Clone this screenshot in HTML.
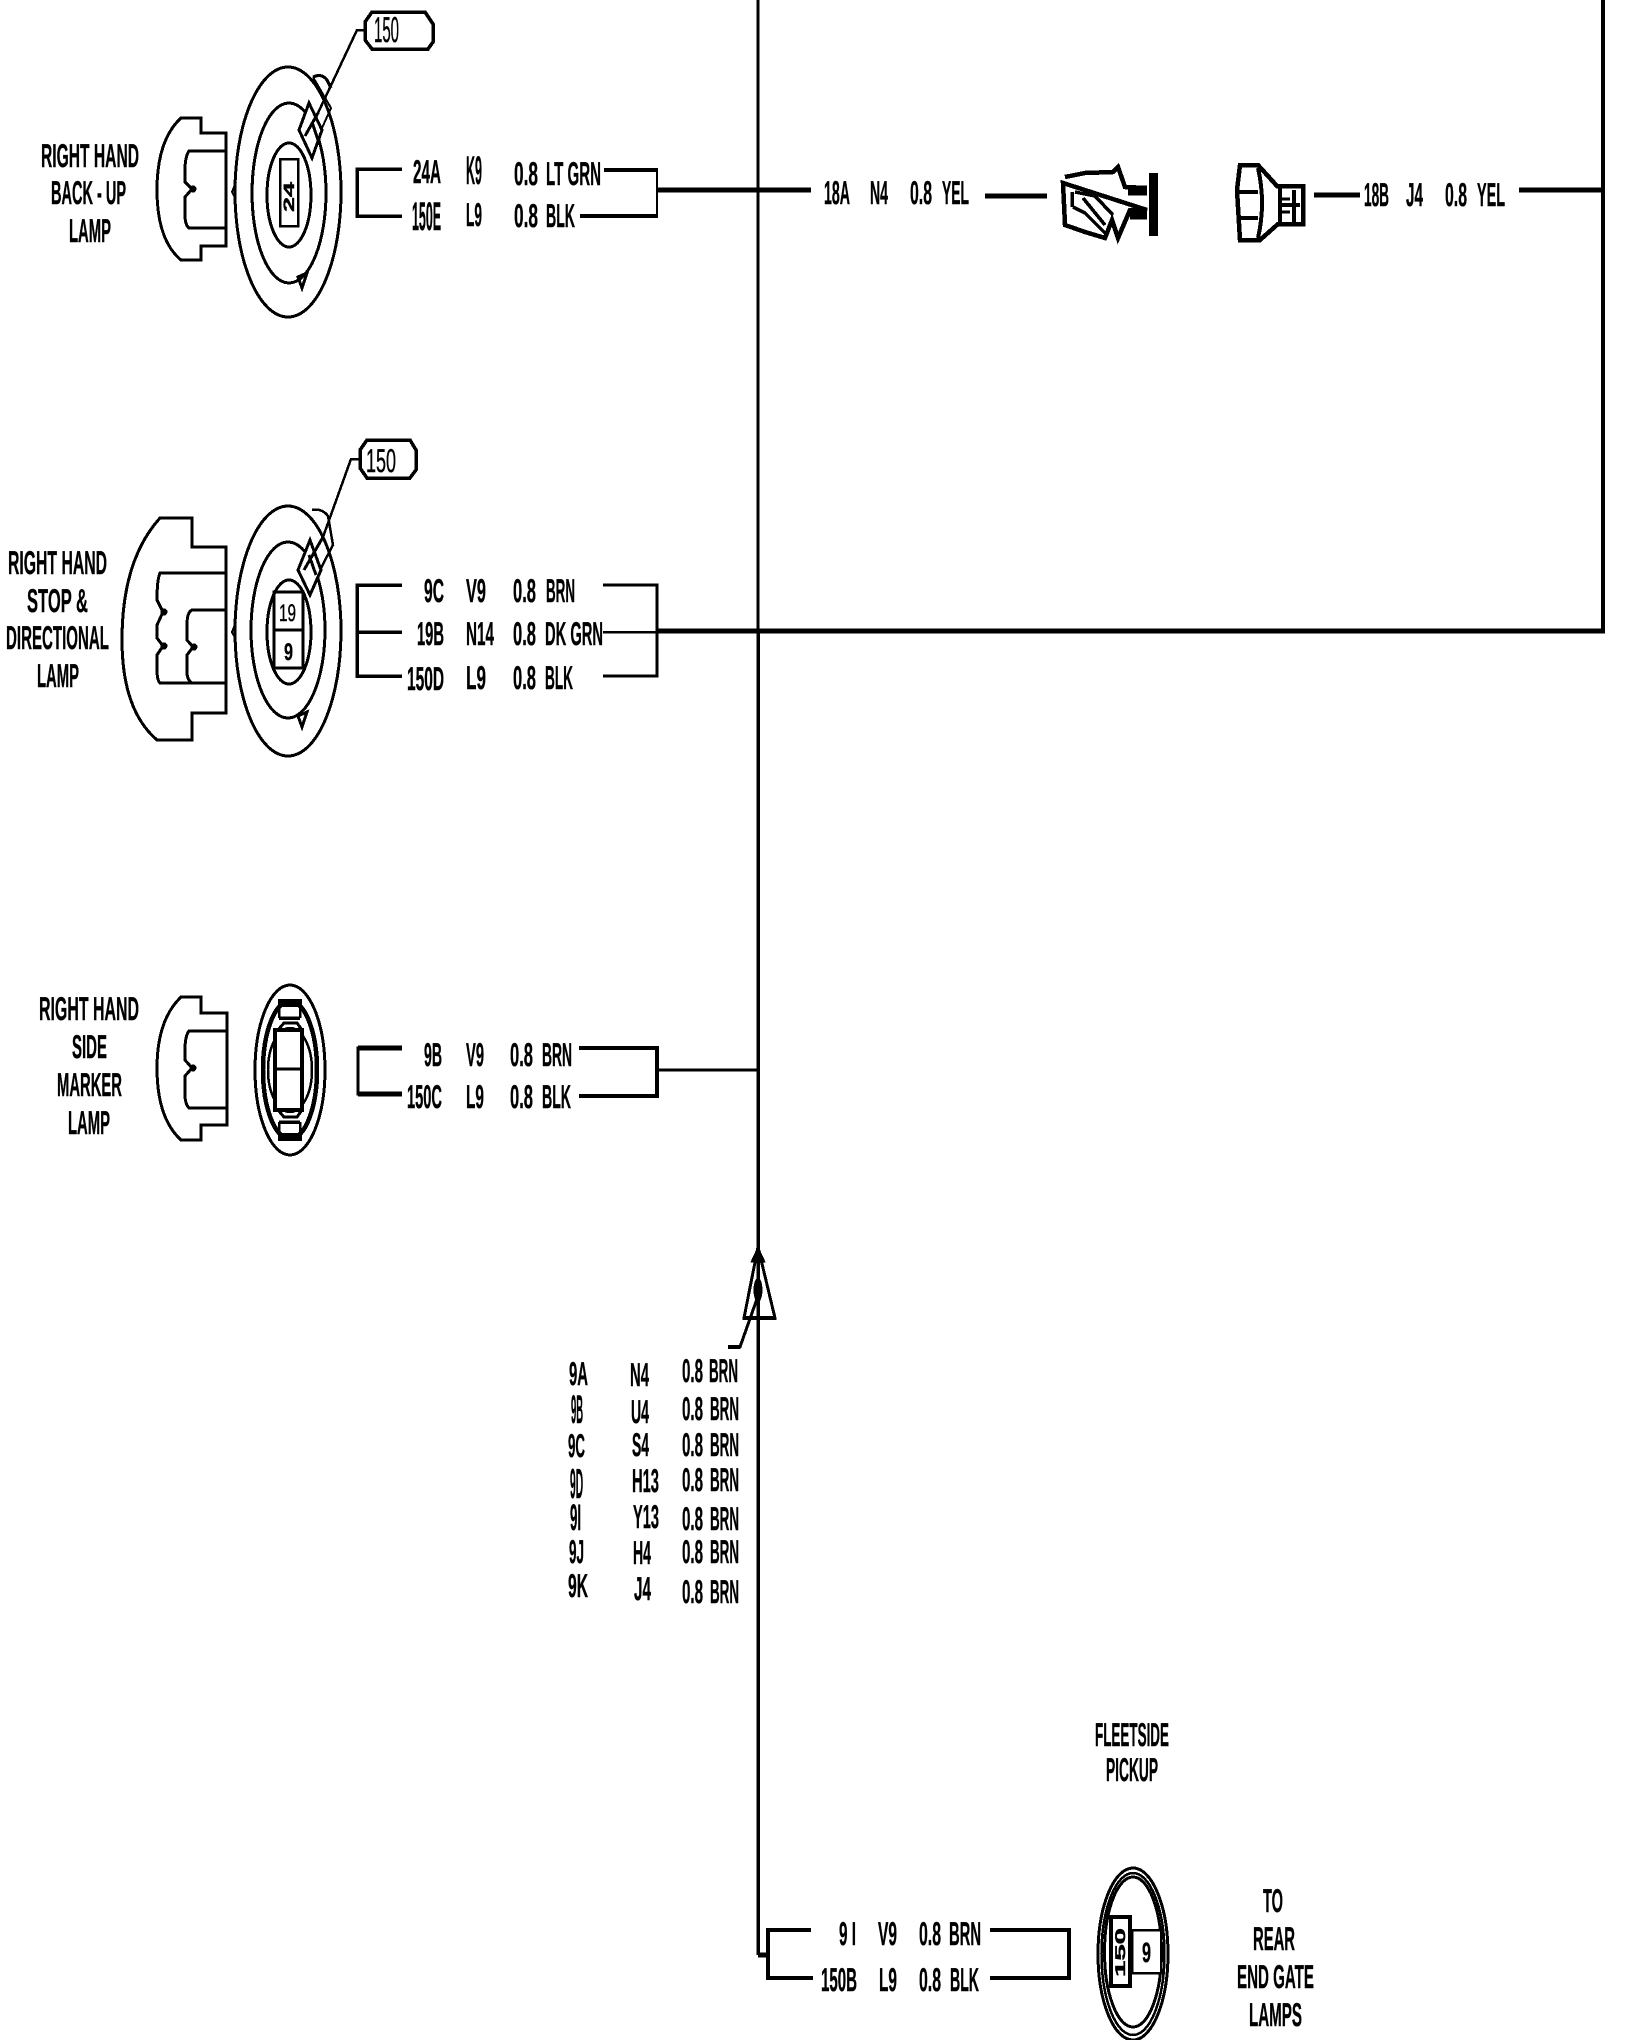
<!DOCTYPE html>
<html>
<head>
<meta charset="utf-8">
<style>
html,body{margin:0;padding:0;background:#fff;width:1648px;height:2040px;overflow:hidden}
svg{display:block}
text{font-family:"Liberation Sans",sans-serif;font-weight:bold;font-size:33px;fill:#000;stroke:#000;stroke-width:.4;text-rendering:geometricPrecision}
text:not([transform]){transform:translateY(-1px)}
.l{fill:none;stroke:#000;stroke-linejoin:miter}
</style>
</head>
<body>
<svg width="1648" height="2040" viewBox="0 0 1648 2040" xmlns="http://www.w3.org/2000/svg" shape-rendering="crispEdges">
<!-- frame -->
<g class="l">
<path d="M758 0V631" stroke-width="3"/>
<path d="M758 631V1955" stroke-width="3.5"/>
<path d="M758 1955H768" stroke-width="5"/>
<path d="M1603 0V633" stroke-width="4"/>
<path d="M657 631H1605" stroke-width="5"/>
</g>

<!-- ROW 1 -->
<text x="41" y="168" textLength="98" lengthAdjust="spacingAndGlyphs">RIGHT  HAND</text>
<text x="51" y="205" textLength="75" lengthAdjust="spacingAndGlyphs">BACK - UP</text>
<text x="69" y="243" textLength="42" lengthAdjust="spacingAndGlyphs">LAMP</text>
<g class="l" stroke-width="2.5">
<path d="M201 133V118H181Q157 140 157 190Q157 240 181 260H201V246H226V133H201Z" stroke-width="3"/>
<path d="M226 151H189Q185 157 185 170V182L192 189L185 197V215Q185 225 189 228H226" stroke-width="3"/>
<ellipse cx="288" cy="192" rx="53" ry="125" stroke-width="3"/>
<ellipse cx="289" cy="193" rx="37" ry="90" stroke-width="3"/>
<ellipse cx="289" cy="195" rx="22" ry="52" stroke-width="3"/>
<rect x="280" y="159" width="18" height="67" stroke-width="2.5"/>
<path d="M309 103L299 130L312 158L322 130Z" stroke-width="3" fill="#fff"/>
<path d="M318 113L305 136M312 122L318 140" stroke-width="3"/>
<path d="M313 77Q322 73 327 80L331 88" stroke-width="3"/>
<path d="M318 113L357 30H365" stroke-width="2.5"/>
<path d="M313 77L331 108L322 128" stroke-width="2"/>
<path d="M298 277L307 273L302 288Z" stroke-width="3"/>
<path d="M236 182L232 192L236 200" stroke-width="2"/>
<path d="M372 12H425L433 24V42L428 49H372L365 40V22Z" stroke-width="3.5" fill="#fff"/>
<path d="M402 169H357V216H402" stroke-width="3.5"/>
<path d="M604 170H657M580 216H657" stroke-width="4"/>
<path d="M657 168V218" stroke-width="2"/>
<path d="M657 190H811" stroke-width="5"/>
</g>
<circle cx="193" cy="189" r="3.5"/>
<text x="374" y="43" textLength="25" lengthAdjust="spacingAndGlyphs" style="font-size:36px;font-weight:normal">150</text>
<text transform="translate(294,212) rotate(-90)" x="0" y="0" textLength="30" lengthAdjust="spacingAndGlyphs" style="font-size:15px">24</text>
<text x="413" y="184" textLength="28" lengthAdjust="spacingAndGlyphs">24A</text>
<text transform="translate(466,184) scale(.313,1)" style="font-size:40px">K9</text>
<text x="514" y="186" textLength="24" lengthAdjust="spacingAndGlyphs">0.8</text>
<text x="546" y="186" textLength="55" lengthAdjust="spacingAndGlyphs">LT GRN</text>
<text transform="translate(412,230) scale(.311,1)" style="font-size:40px">150E</text>
<text x="466" y="227" textLength="16" lengthAdjust="spacingAndGlyphs">L9</text>
<text x="514" y="228" textLength="24" lengthAdjust="spacingAndGlyphs">0.8</text>
<text x="546" y="228" textLength="29" lengthAdjust="spacingAndGlyphs">BLK</text>

<!-- top right row -->
<text x="824" y="205" textLength="26" lengthAdjust="spacingAndGlyphs">18A</text>
<text x="870" y="205" textLength="18" lengthAdjust="spacingAndGlyphs">N4</text>
<text x="910" y="205" textLength="22" lengthAdjust="spacingAndGlyphs">0.8</text>
<text x="942" y="205" textLength="27" lengthAdjust="spacingAndGlyphs">YEL</text>
<g class="l">
<path d="M985 196H1047" stroke-width="5"/>
<path d="M1065 177L1085 173L1113 172L1118 167L1125 187L1147 188M1147 210L1130 210L1118 238L1112 220L1105 238L1085 232L1065 225L1063 183Z" stroke-width="4.5"/>
<path d="M1153.5 173V236" stroke-width="9"/>
<path d="M1128 191H1147M1130 215H1147" stroke-width="9"/>
<path d="M1075 192L1095 196L1113 215M1072 192V207M1073 207L1085 213L1107 235M1083 198L1105 225" stroke-width="3.5"/>
<path d="M1240 165H1258L1277 186H1303V224H1278L1260 240H1240L1237 190Z" stroke-width="4.5"/>
<path d="M1238 192H1258M1238 218H1258M1258 168Q1266 203 1258 238" stroke-width="4"/>
<path d="M1280 205H1300M1294 190V222M1280 188V222" stroke-width="4"/>
<path d="M1278 199H1290M1278 212H1290" stroke-width="3"/>
<path d="M1314 195H1360" stroke-width="5"/>
<path d="M1519 190H1603" stroke-width="5"/>
</g>
<text x="1364" y="207" textLength="25" lengthAdjust="spacingAndGlyphs">18B</text>
<text x="1406" y="207" textLength="17" lengthAdjust="spacingAndGlyphs">J4</text>
<text x="1445" y="207" textLength="22" lengthAdjust="spacingAndGlyphs">0.8</text>
<text x="1477" y="207" textLength="28" lengthAdjust="spacingAndGlyphs">YEL</text>

<!-- ROW 2 -->
<text x="8" y="575" textLength="99" lengthAdjust="spacingAndGlyphs">RIGHT  HAND</text>
<text x="27" y="613" textLength="61" lengthAdjust="spacingAndGlyphs">STOP &amp;</text>
<text x="6" y="650" textLength="103" lengthAdjust="spacingAndGlyphs">DIRECTIONAL</text>
<text x="37" y="688" textLength="42" lengthAdjust="spacingAndGlyphs">LAMP</text>
<g class="l" stroke-width="2.5">
<path d="M192 547V518H160Q122 560 122 640Q122 710 157 740H192V713H226V547H192Z" stroke-width="3"/>
<path d="M226 573H160Q157 580 157 600L163 612L157 625V638L163 646L157 655V670Q157 680 160 683H226" stroke-width="3"/>
<path d="M226 610H192Q187 612 187 625V640L193 647L187 655V672Q187 680 192 683" stroke-width="3"/>
<ellipse cx="288" cy="631" rx="53" ry="125" stroke-width="3"/>
<ellipse cx="288" cy="630" rx="37" ry="88" stroke-width="3"/>
<ellipse cx="289" cy="632" rx="22" ry="52" stroke-width="3"/>
<rect x="274" y="592" width="29" height="76" stroke-width="3"/>
<path d="M274 630H303" stroke-width="3"/>
<path d="M310 540L298 570L310 595L321 570Z" stroke-width="3" fill="#fff"/>
<path d="M323 537L304 570M309 555L316 575" stroke-width="3"/>
<path d="M312 510Q322 508 328 516L333 545L321 568" stroke-width="2.5"/>
<path d="M323 537L351 459H360" stroke-width="2.5"/>
<path d="M298 716L307 712L302 727Z" stroke-width="3"/>
<path d="M236 622L232 632L236 640" stroke-width="2"/>
<path d="M367 440H410L416 450V470L410 478H367L360 468V450Z" stroke-width="3.5" fill="#fff"/>
<path d="M402 585H357V676H402" stroke-width="3.5"/>
<path d="M357 632H402" stroke-width="3.5"/>
<path d="M603 585H657V676H603" stroke-width="3"/>
<path d="M603 632H657" stroke-width="2.5"/>
</g>
<circle cx="164" cy="612" r="3.5"/><circle cx="164" cy="646" r="3.5"/><circle cx="194" cy="647" r="3.5"/>
<text x="366" y="473" textLength="30" lengthAdjust="spacingAndGlyphs" style="font-size:33px;font-weight:normal">150</text>
<text x="279" y="622" textLength="17" lengthAdjust="spacingAndGlyphs" style="font-size:24px;font-weight:normal">19</text>
<text x="284" y="661" textLength="9" lengthAdjust="spacingAndGlyphs" style="font-size:24px">9</text>
<text x="424" y="603" textLength="20" lengthAdjust="spacingAndGlyphs">9C</text>
<text x="466" y="603" textLength="20" lengthAdjust="spacingAndGlyphs">V9</text>
<text x="513" y="603" textLength="23" lengthAdjust="spacingAndGlyphs">0.8</text>
<text x="546" y="603" textLength="29" lengthAdjust="spacingAndGlyphs">BRN</text>
<text x="417" y="646" textLength="27" lengthAdjust="spacingAndGlyphs">19B</text>
<text x="466" y="646" textLength="28" lengthAdjust="spacingAndGlyphs">N14</text>
<text x="513" y="646" textLength="23" lengthAdjust="spacingAndGlyphs">0.8</text>
<text x="545" y="646" textLength="58" lengthAdjust="spacingAndGlyphs">DK GRN</text>
<text x="407" y="691" textLength="37" lengthAdjust="spacingAndGlyphs">150D</text>
<text x="466" y="690" textLength="20" lengthAdjust="spacingAndGlyphs">L9</text>
<text x="513" y="690" textLength="23" lengthAdjust="spacingAndGlyphs">0.8</text>
<text x="545" y="690" textLength="28" lengthAdjust="spacingAndGlyphs">BLK</text>

<!-- ROW 3 -->
<text x="39" y="1021" textLength="100" lengthAdjust="spacingAndGlyphs">RIGHT  HAND</text>
<text x="72" y="1059" textLength="35" lengthAdjust="spacingAndGlyphs">SIDE</text>
<text x="57" y="1097" textLength="65" lengthAdjust="spacingAndGlyphs">MARKER</text>
<text x="68" y="1135" textLength="42" lengthAdjust="spacingAndGlyphs">LAMP</text>
<g class="l" stroke-width="2.5">
<path d="M201 1013V997H181Q157 1020 157 1068Q157 1118 181 1140H201V1125H227V1013H201Z" stroke-width="3"/>
<path d="M227 1031H189Q185 1036 185 1050V1060L192 1068L185 1076V1095Q185 1104 189 1108H227" stroke-width="3"/>
<ellipse cx="290" cy="1070" rx="35" ry="85" stroke-width="3"/>
<ellipse cx="290" cy="1070" rx="27" ry="69" stroke-width="4.5"/>
<ellipse cx="290" cy="1070" rx="22" ry="42" stroke-width="2.5"/>
<path d="M278 1003H302" stroke-width="8"/>
<path d="M278 1137H302" stroke-width="8"/>
<path d="M279 1006V1018M300 1006V1018M279 1122V1134M300 1122V1134" stroke-width="2.5"/>
<path d="M279 1018H300M279 1122H300" stroke-width="3.5"/>
<path d="M278 1030L284 1023H297L302 1030M278 1110L284 1117H297L302 1110" stroke-width="3"/>
<rect x="275" y="1030" width="27" height="80" stroke-width="4" fill="#fff"/>
<path d="M275 1069H302" stroke-width="3"/>
<path d="M402 1048H358V1094H402" stroke-width="3"/>
<path d="M358 1048H402M358 1094H402" stroke-width="5"/>
<path d="M579 1048H657V1096H579" stroke-width="4"/>
<path d="M657 1070H758" stroke-width="3"/>
</g>
<circle cx="193" cy="1068" r="3.5"/>
<text x="424" y="1067" textLength="18" lengthAdjust="spacingAndGlyphs">9B</text>
<text x="466" y="1067" textLength="18" lengthAdjust="spacingAndGlyphs">V9</text>
<text x="510" y="1067" textLength="23" lengthAdjust="spacingAndGlyphs">0.8</text>
<text x="542" y="1067" textLength="30" lengthAdjust="spacingAndGlyphs">BRN</text>
<text x="407" y="1109" textLength="35" lengthAdjust="spacingAndGlyphs">150C</text>
<text x="466" y="1109" textLength="18" lengthAdjust="spacingAndGlyphs">L9</text>
<text x="510" y="1109" textLength="23" lengthAdjust="spacingAndGlyphs">0.8</text>
<text x="542" y="1109" textLength="29" lengthAdjust="spacingAndGlyphs">BLK</text>

<!-- triangle -->
<g class="l">
<path d="M758 1247L775 1318H744Z" stroke-width="3"/>
<path d="M743 1318H776" stroke-width="4"/>
<path d="M758 1296L740 1347H728" stroke-width="3"/>
<path d="M740 1347H728" stroke-width="4"/>
<path d="M758 1247L751 1262H765Z" fill="#000" stroke-width="1"/>
</g>
<ellipse cx="758" cy="1290" rx="4.5" ry="12" fill="#000"/>

<!-- table -->
<text x="569" y="1386" textLength="19" lengthAdjust="spacingAndGlyphs">9A</text>
<text transform="translate(571,1423) scale(.236,1)" style="font-size:40px">9B</text>
<text x="568" y="1458" textLength="17" lengthAdjust="spacingAndGlyphs">9C</text>
<text transform="translate(570,1498) scale(.244,1)" style="font-size:42px">9D</text>
<text transform="translate(570,1530) scale(.36,1)" style="font-size:37px">9I</text>
<text x="569" y="1564" textLength="15" lengthAdjust="spacingAndGlyphs">9J</text>
<text x="568" y="1598" textLength="20" lengthAdjust="spacingAndGlyphs">9K</text>
<text x="630" y="1387" textLength="19" lengthAdjust="spacingAndGlyphs">N4</text>
<text x="631" y="1424" textLength="18" lengthAdjust="spacingAndGlyphs">U4</text>
<text x="632" y="1457" textLength="17" lengthAdjust="spacingAndGlyphs">S4</text>
<text x="632" y="1493" textLength="27" lengthAdjust="spacingAndGlyphs">H13</text>
<text x="633" y="1529" textLength="26" lengthAdjust="spacingAndGlyphs">Y13</text>
<text x="633" y="1565" textLength="18" lengthAdjust="spacingAndGlyphs">H4</text>
<text x="634" y="1601" textLength="17" lengthAdjust="spacingAndGlyphs">J4</text>
<text x="682" y="1383" textLength="21" lengthAdjust="spacingAndGlyphs">0.8</text><text x="709" y="1383" textLength="29" lengthAdjust="spacingAndGlyphs">BRN</text>
<text x="682" y="1421" textLength="21" lengthAdjust="spacingAndGlyphs">0.8</text><text x="710" y="1421" textLength="29" lengthAdjust="spacingAndGlyphs">BRN</text>
<text x="682" y="1457" textLength="21" lengthAdjust="spacingAndGlyphs">0.8</text><text x="710" y="1457" textLength="29" lengthAdjust="spacingAndGlyphs">BRN</text>
<text x="682" y="1492" textLength="21" lengthAdjust="spacingAndGlyphs">0.8</text><text x="710" y="1492" textLength="29" lengthAdjust="spacingAndGlyphs">BRN</text>
<text x="682" y="1531" textLength="21" lengthAdjust="spacingAndGlyphs">0.8</text><text x="710" y="1531" textLength="29" lengthAdjust="spacingAndGlyphs">BRN</text>
<text x="682" y="1564" textLength="21" lengthAdjust="spacingAndGlyphs">0.8</text><text x="710" y="1564" textLength="29" lengthAdjust="spacingAndGlyphs">BRN</text>
<text x="682" y="1604" textLength="21" lengthAdjust="spacingAndGlyphs">0.8</text><text x="710" y="1604" textLength="29" lengthAdjust="spacingAndGlyphs">BRN</text>

<!-- bottom -->
<text x="1095" y="1747" textLength="74" lengthAdjust="spacingAndGlyphs">FLEETSIDE</text>
<text x="1106" y="1782" textLength="52" lengthAdjust="spacingAndGlyphs">PICKUP</text>
<g class="l">
<path d="M811 1930H768V1978H813" stroke-width="4"/>
<path d="M990 1930H1069V1978H990" stroke-width="4"/>
<ellipse cx="1133" cy="1954" rx="35" ry="86" stroke-width="3"/>
<ellipse cx="1133" cy="1954" rx="31.5" ry="81" stroke-width="2.5"/>
<ellipse cx="1133" cy="1952" rx="28.5" ry="75" stroke-width="3"/>
<rect x="1132" y="1930" width="29" height="43" stroke-width="2.5" fill="#fff"/>
<rect x="1111" y="1917" width="19" height="69" stroke-width="4" fill="#fff"/>
</g>
<text x="839" y="1946" textLength="17" lengthAdjust="spacingAndGlyphs">9 I</text>
<text x="878" y="1946" textLength="19" lengthAdjust="spacingAndGlyphs">V9</text>
<text x="919" y="1946" textLength="22" lengthAdjust="spacingAndGlyphs">0.8</text>
<text x="949" y="1946" textLength="32" lengthAdjust="spacingAndGlyphs">BRN</text>
<text x="821" y="1992" textLength="36" lengthAdjust="spacingAndGlyphs">150B</text>
<text x="879" y="1992" textLength="18" lengthAdjust="spacingAndGlyphs">L9</text>
<text x="919" y="1992" textLength="22" lengthAdjust="spacingAndGlyphs">0.8</text>
<text x="950" y="1992" textLength="29" lengthAdjust="spacingAndGlyphs">BLK</text>
<text transform="translate(1125,1977) rotate(-90)" x="0" y="0" textLength="49" lengthAdjust="spacingAndGlyphs" style="font-size:14px">150</text>
<text x="1142" y="1963" textLength="9" lengthAdjust="spacingAndGlyphs" style="font-size:28px">9</text>
<text x="1263" y="1913" textLength="20" lengthAdjust="spacingAndGlyphs">TO</text>
<text x="1253" y="1951" textLength="42" lengthAdjust="spacingAndGlyphs">REAR</text>
<text x="1237" y="1989" textLength="77" lengthAdjust="spacingAndGlyphs">END GATE</text>
<text x="1249" y="2027" textLength="53" lengthAdjust="spacingAndGlyphs">LAMPS</text>
</svg>
</body>
</html>
